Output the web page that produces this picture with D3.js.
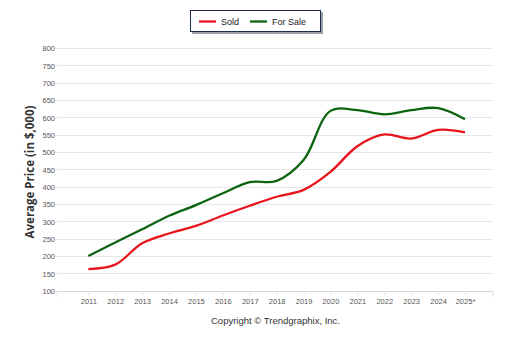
<!DOCTYPE html>
<html><head><meta charset="utf-8">
<script src="https://cdn.jsdelivr.net/npm/d3@7"></script>
<style>body{margin:0;background:#fff;}svg{display:block;}</style>
</head><body>
<script>
const years = ["2011","2012","2013","2014","2015","2016","2017","2018","2019","2020","2021","2022","2023","2024","2025*"];
const sold = [163,176,238,266,288,318,346,372,392,444,518,552,540,565,558];
const forSale = [201,240,278,317,348,382,414,418,478,620,622,610,622,628,596];
const yTicks = [100,150,200,250,300,350,400,450,500,550,600,650,700,750,800];
const seriesNames = ["Sold","For Sale"];
const colors = ["#e8141c","#0b650f"];

const W=510,H=339;
const svg=d3.select("body").append("svg").attr("width",W).attr("height",H);
const x=d3.scalePoint().domain(years).range([88.3,465]);
const y=d3.scaleLinear().domain([100,800]).range([291,48.5]);
const left=57,right=493;

// gridlines
svg.append("g").selectAll("line").data(yTicks).join("line")
  .attr("x1",left).attr("x2",right).attr("y1",d=>y(d)).attr("y2",d=>y(d))
  .attr("stroke",d=>d===100?"#d8d8d8":"#e6e6e6").attr("stroke-width",1).attr("shape-rendering","crispEdges");

// y axis labels
const yAxis=d3.axisLeft(y).tickValues(yTicks).tickSize(0).tickPadding(0);
const gy=svg.append("g").attr("transform",`translate(55,0)`).call(yAxis);
gy.select(".domain").remove();
gy.selectAll("text").attr("font-family","'Liberation Sans Narrow','Arial Narrow',sans-serif").attr("font-size","7.5px").attr("fill","#555");

// x axis
const xAxis=d3.axisBottom(x).tickSize(4).tickPadding(4);
const gx=svg.append("g").attr("transform",`translate(0,291)`).call(xAxis);
gx.select(".domain").remove();
gx.selectAll("line").attr("stroke","#e2e2e2");
gx.selectAll("text").attr("font-family","'Liberation Sans Narrow','Arial Narrow',sans-serif").attr("font-size","7.5px").attr("fill","#555");
svg.append("g").selectAll("line").data([left,right]).join("line")
  .attr("x1",d=>d).attr("x2",d=>d).attr("y1",291).attr("y2",297).attr("stroke","#e2e2e2");

// lines
const line=d3.line().x((d,i)=>x(years[i])).y(d=>y(d)).curve(d3.curveCatmullRom.alpha(0.5));
[sold,forSale].forEach((s,i)=>{
  svg.append("path").datum(s).attr("d",line).attr("fill","none")
    .attr("stroke",colors[i]).attr("stroke-width",2.3).attr("stroke-linejoin","round");
});

// y title
svg.append("text").attr("transform","translate(34,172) rotate(-90)")
  .attr("text-anchor","middle").attr("font-family","'Open Sans','DejaVu Sans',sans-serif")
  .attr("font-weight","bold").attr("font-size","11.5px").attr("fill","#333").text("Average Price (in $,000)");

// legend
const lg=svg.append("g");
lg.append("rect").attr("x",192).attr("y",12).attr("width",131).attr("height",22).attr("fill","#9a9fa8");
lg.append("rect").attr("x",190.5).attr("y",10.5).attr("width",130).attr("height",21).attr("fill","#fff").attr("stroke","#1f2d4d").attr("stroke-width",1);
const lx=[199,250];
seriesNames.forEach((n,i)=>{
  lg.append("line").attr("x1",lx[i]).attr("x2",lx[i]+17).attr("y1",21.5).attr("y2",21.5).attr("stroke",colors[i]).attr("stroke-width",2.3);
  lg.append("text").attr("x",lx[i]+22).attr("y",25).attr("font-family","Arial,'Liberation Sans',sans-serif").attr("font-size","9px").attr("fill","#222").text(n);
});

// copyright
svg.append("text").attr("x",275.5).attr("y",324).attr("text-anchor","middle")
  .attr("font-family","Arial,'Liberation Sans',sans-serif").attr("font-size","9.5px").attr("fill","#333").text("Copyright © Trendgraphix, Inc.");
</script>
</body></html>
